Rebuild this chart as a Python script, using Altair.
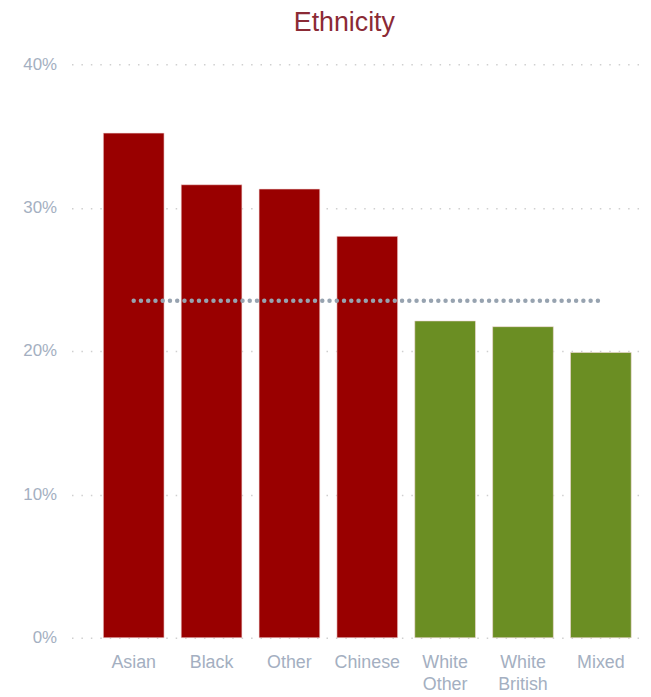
import altair as alt
import pandas as pd

categories = ["Asian", "Black", "Other", "Chinese", "White Other", "White British", "Mixed"]
values = [0.352, 0.316, 0.313, 0.280, 0.221, 0.217, 0.199]
average = 0.235

df = pd.DataFrame({"category": categories, "value": values})
avg_df = pd.DataFrame({"start": [categories[0]], "end": [categories[-1]], "avg": [average]})

xscale = alt.Scale(domain=categories, paddingInner=0.22, paddingOuter=0.28, align=0.73)
yscale = alt.Scale(domain=[0, 0.4])

bars = alt.Chart(df).mark_bar(stroke="#f4dada", strokeWidth=0.6).encode(
    x=alt.X("category:N", scale=xscale, sort=categories,
            axis=alt.Axis(title=None, labelExpr="split(datum.label, ' ')",
                          labelAngle=0, labelFont="Liberation Sans", labelFontSize=18,
                          labelColor="#a4afc1", labelPadding=16, labelLineHeight=22,
                          domain=False, ticks=False, grid=False)),
    y=alt.Y("value:Q", scale=yscale,
            axis=alt.Axis(title=None, format=".0%", values=[0, 0.1, 0.2, 0.3, 0.4],
                          labelFont="Liberation Sans", labelFontSize=17,
                          labelColor="#a4afc1", labelPadding=15,
                          domain=False, ticks=False, grid=True,
                          gridColor="#cfcfcf", gridDash=[1.5, 8], gridWidth=1.5)),
    color=alt.condition(f"datum.value > {average}", alt.value("#990000"), alt.value("#6b8e23")),
)

avg_line = alt.Chart(avg_df).mark_rule(
    color="#97a3b0", strokeWidth=4.5, strokeDash=[0.01, 7.3], strokeCap="round"
).encode(
    x=alt.X("start:N", scale=xscale),
    x2="end:N",
    y=alt.Y("avg:Q", scale=yscale),
)

chart = alt.layer(bars, avg_line).properties(
    width=576,
    height=578,
    autosize="none",
    padding={"left": 64, "top": 54, "right": 0, "bottom": 62},
    title=alt.TitleParams("Ethnicity", font="Liberation Sans", fontSize=27,
                          fontWeight="normal", color="#8b2a35", offset=19, dx=-13),
).configure_view(stroke=None)

chart.save("out.html", embed_options={"renderer": "svg", "actions": False})
